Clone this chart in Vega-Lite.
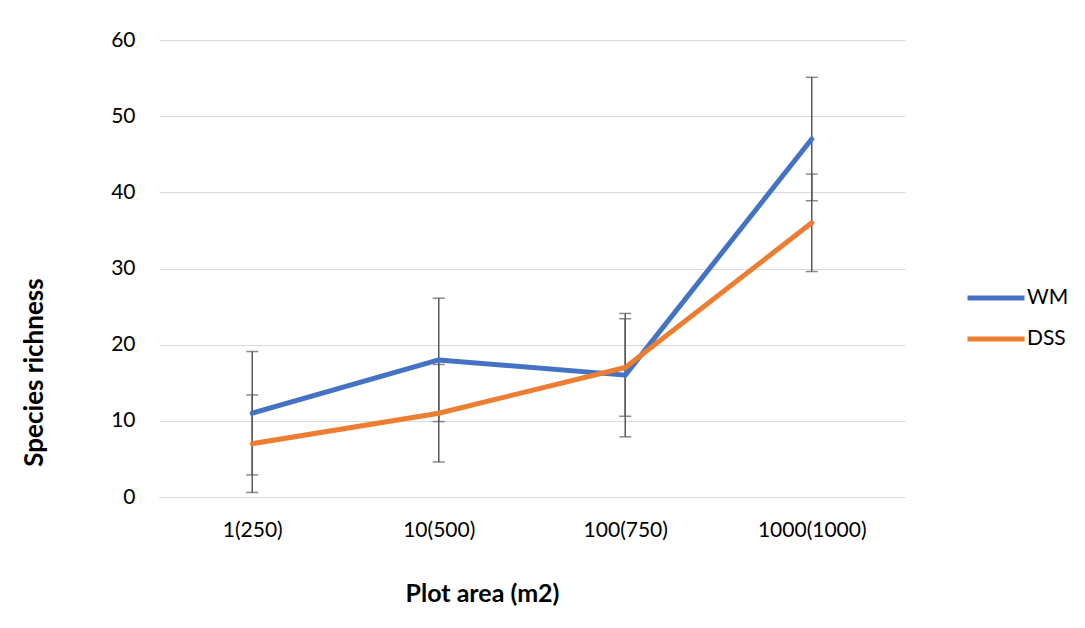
{
  "$schema": "https://vega.github.io/schema/vega-lite/v6.json",
  "width": 746,
  "height": 457,
  "autosize": {"type": "none"},
  "padding": {"left": 159, "top": 40, "right": 180, "bottom": 131},
  "background": "white",
  "config": {
    "font": "Lato",
    "view": {"stroke": null},
    "axis": {"labelFont": "Lato", "titleFont": "Lato", "labelColor": "#000000", "titleColor": "#000000"}
  },
  "data": {
    "values": [
      {"area": "1(250)", "series": "WM", "value": 11, "lo": 2.9, "hi": 19.1},
      {"area": "10(500)", "series": "WM", "value": 18, "lo": 9.9, "hi": 26.1},
      {"area": "100(750)", "series": "WM", "value": 16, "lo": 7.9, "hi": 24.1},
      {"area": "1000(1000)", "series": "WM", "value": 47, "lo": 38.9, "hi": 55.1},
      {"area": "1(250)", "series": "DSS", "value": 7, "lo": 0.6, "hi": 13.4},
      {"area": "10(500)", "series": "DSS", "value": 11, "lo": 4.6, "hi": 17.4},
      {"area": "100(750)", "series": "DSS", "value": 17, "lo": 10.6, "hi": 23.4},
      {"area": "1000(1000)", "series": "DSS", "value": 36, "lo": 29.6, "hi": 42.4}
    ]
  },
  "encoding": {
    "x": {
      "field": "area",
      "type": "ordinal",
      "sort": ["1(250)", "10(500)", "100(750)", "1000(1000)"],
      "scale": {"type": "point", "padding": 0.5},
      "axis": {
        "title": "Plot area (m2)",
        "labelAngle": 0,
        "labelFontSize": 21,
        "labelPadding": 22,
        "ticks": false,
        "domain": true,
        "domainColor": "#d9d9d9",
        "domainWidth": 1,
        "grid": false,
        "titleFontSize": 25,
        "titleFontWeight": "bold",
        "titleBaseline": "middle",
        "titleAlign": "center",
        "titleX": 323,
        "titleY": 96
      }
    }
  },
  "layer": [
    {
      "mark": {"type": "rule", "color": "#595959", "strokeWidth": 1.5},
      "encoding": {
        "y": {
          "field": "lo",
          "type": "quantitative",
          "scale": {"domain": [0, 60], "nice": false},
          "axis": {
            "title": "Species richness",
            "values": [0, 10, 20, 30, 40, 50, 60],
            "labelFontSize": 21,
            "labelPadding": 24,
            "ticks": false,
            "domain": false,
            "gridColor": "#d9d9d9",
            "gridWidth": 1,
            "titleFontSize": 26,
            "titleFontWeight": "bold",
            "titleBaseline": "middle",
            "titleAngle": -90,
            "titleX": -125,
            "titleY": 332
          }
        },
        "y2": {"field": "hi"}
      }
    },
    {
      "mark": {"type": "tick", "color": "#595959", "thickness": 1.5, "size": 12, "orient": "horizontal"},
      "encoding": {"y": {"field": "lo", "type": "quantitative"}}
    },
    {
      "mark": {"type": "tick", "color": "#595959", "thickness": 1.5, "size": 12, "orient": "horizontal"},
      "encoding": {"y": {"field": "hi", "type": "quantitative"}}
    },
    {
      "mark": {"type": "line", "strokeWidth": 5, "strokeCap": "round", "strokeJoin": "round"},
      "encoding": {
        "y": {"field": "value", "type": "quantitative"},
        "color": {
          "field": "series",
          "type": "nominal",
          "scale": {"domain": ["WM", "DSS"], "range": ["#4472C4", "#ED7D31"]},
          "legend": {
            "title": null,
            "orient": "none",
            "legendX": 806,
            "legendY": 227,
            "symbolType": "stroke",
            "symbolSize": 3249,
            "symbolStrokeWidth": 5,
            "labelFontSize": 21,
            "labelColor": "#000000",
            "labelFont": "Lato",
            "labelOffset": 0,
            "rowPadding": -11
          }
        }
      }
    }
  ]
}
